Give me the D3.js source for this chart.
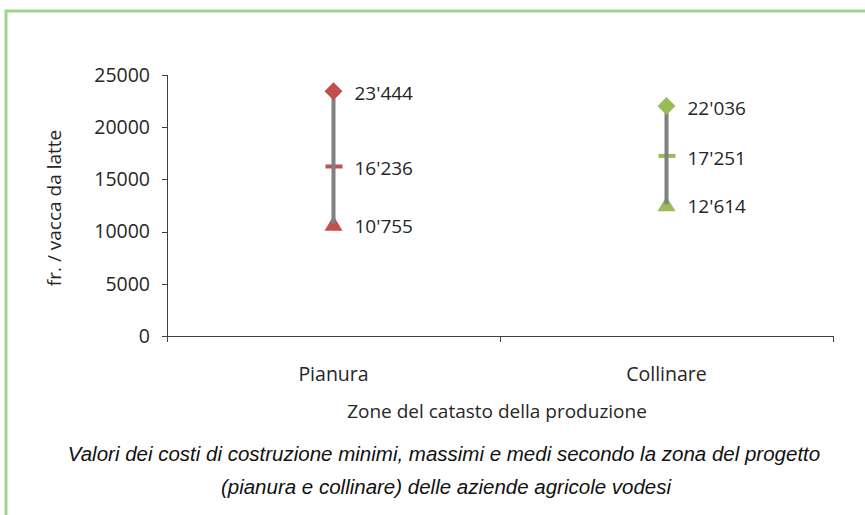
<!DOCTYPE html>
<html lang="it">
<head>
  <meta charset="UTF-8">
  <title>Costi di costruzione</title>
  <script src="https://d3js.org/d3.v7.min.js"></script>
  <style>
    body { margin: 0; background: #fff; }
    .axis path, .axis line { stroke: #404040; shape-rendering: crispEdges; }
    .axis text { font: 19.5px "Open Sans", sans-serif; fill: #262626; }
    .lbl { font: 19px "Open Sans", sans-serif; fill: #262626; }
    .caption { font: italic 20.5px "Liberation Sans", Arial, sans-serif; fill: #111; }
  </style>
</head>
<body>
<script>
  // valori
  var zones = ["Pianura", "Collinare"];
  var maxVals = [23444, 22036];
  var meanVals = [16236, 17251];
  var minVals = [10755, 12614];
  var colors = ["#c0504d", "#9bbb59"];
  var yTicks = [0, 5000, 10000, 15000, 20000, 25000];

  var W = 865, H = 515;
  var svg = d3.select("body").append("svg")
    .attr("width", W)
    .attr("height", H);

  // cornice verde
  svg.append("path")
    .attr("d", "M6," + H + " V11 H" + W)
    .attr("fill", "none")
    .attr("stroke", "#9fd58a")
    .attr("stroke-width", 3);

  var x = d3.scaleBand().domain(zones).range([167, 833]);
  var y = d3.scaleLinear().domain([0, 25000]).range([336, 75]);

  var fmt = function (v) {
    return d3.format(",")(v).replace(/,/g, "'");
  };

  svg.append("g")
    .attr("class", "axis")
    .attr("transform", "translate(167,0)")
    .call(d3.axisLeft(y).tickValues(yTicks).tickSize(5).tickPadding(12).tickFormat(d3.format("d")))
    .call(function (g) { g.select(".domain").attr("d", "M-5,75.5H0.5V336.5"); });

  var xAxis = svg.append("g")
    .attr("class", "axis")
    .attr("transform", "translate(0,336)");
  xAxis.append("line")
    .attr("x1", 163).attr("x2", 833).attr("y1", 0.5).attr("y2", 0.5);
  xAxis.selectAll(".tk")
    .data([167, 500, 833])
    .enter().append("line")
    .attr("x1", function (d) { return d + 0.5; })
    .attr("x2", function (d) { return d + 0.5; })
    .attr("y1", 0).attr("y2", 6);
  xAxis.selectAll(".cat")
    .data(zones)
    .enter().append("text")
    .attr("x", function (d) { return x(d) + x.bandwidth() / 2; })
    .attr("y", 45)
    .attr("text-anchor", "middle")
    .text(function (d) { return d; });

  svg.append("text")
    .attr("class", "lbl")
    .attr("transform", "translate(61,208) rotate(-90)")
    .attr("text-anchor", "middle")
    .text("fr. / vacca da latte");

  svg.append("text")
    .attr("class", "lbl")
    .attr("x", 497).attr("y", 418)
    .attr("text-anchor", "middle")
    .text("Zone del catasto della produzione");

  svg.append("text")
    .attr("class", "caption")
    .attr("x", 444).attr("y", 461)
    .attr("text-anchor", "middle")
    .text("Valori dei costi di costruzione minimi, massimi e medi secondo la zona del progetto");
  svg.append("text")
    .attr("class", "caption")
    .attr("x", 446).attr("y", 494)
    .attr("text-anchor", "middle")
    .text("(pianura e collinare) delle aziende agricole vodesi");

  var data = zones.map(function (z, i) {
    return { zone: z, max: maxVals[i], mean: meanVals[i], min: minVals[i], color: colors[i] };
  });

  var g = svg.selectAll(".zone")
    .data(data)
    .enter().append("g")
    .attr("transform", function (d) { return "translate(" + (x(d.zone) + x.bandwidth() / 2) + ",0)"; });

  // minimo: triangolo
  g.append("path")
    .attr("d", function (d) {
      var c = y(d.min);
      return "M0," + (c - 8) + " L9," + (c + 7) + " L-9," + (c + 7) + " Z";
    })
    .attr("fill", function (d) { return d.color; });

  // media: trattino
  g.append("rect")
    .attr("x", -8).attr("width", 17)
    .attr("y", function (d) { return y(d.mean) - 2; })
    .attr("height", 4)
    .attr("fill", function (d) { return d.color; });

  // linea alto-basso
  g.append("line")
    .attr("x1", 0).attr("x2", 0)
    .attr("y1", function (d) { return y(d.max); })
    .attr("y2", function (d) { return y(d.min); })
    .attr("stroke", "#808080")
    .attr("stroke-width", 4);

  // massimo: rombo
  g.append("path")
    .attr("d", function (d) {
      var c = y(d.max);
      return "M0," + (c - 9) + " L9," + c + " L0," + (c + 9) + " L-9," + c + " Z";
    })
    .attr("fill", function (d) { return d.color; });

  ["max", "mean", "min"].forEach(function (k) {
    g.append("text")
      .attr("class", "lbl")
      .attr("x", 21)
      .attr("y", function (d) { return y(d[k]) + 9; })
      .text(function (d) { return fmt(d[k]); });
  });
</script>
</body>
</html>
